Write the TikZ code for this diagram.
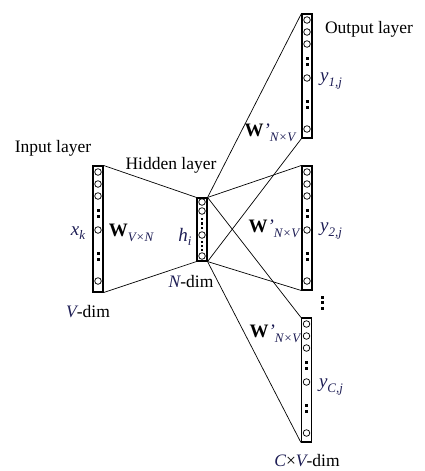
\documentclass[tikz,border=0pt]{standalone}
\usepackage{fontspec}
\setmainfont{Liberation Serif}
\definecolor{mathcol}{RGB}{30,30,85}
\newcommand\lblsz{\fontsize{17.5}{17.5}\selectfont}
\newcommand\bigsz{\fontsize{19}{19}\selectfont}
\newcommand\subsz{\fontsize{13}{13}\selectfont}
\newcommand\mvar[1]{{\color{mathcol}\itshape #1}}
\newcommand\msub[2]{{\bigsz\mvar{#1}}\raisebox{-4.5pt}{\subsz\mvar{#2}}}
\newcommand\Wsub[1]{{\bigsz\textbf{W}}\raisebox{-4.5pt}{\subsz\mvar{#1}}}
\newcommand\Wpsub[1]{{\bigsz\textbf{W}\mvar{'}}\raisebox{-4.5pt}{\subsz\mvar{#1}}}
\newcommand\unitcol[2]{%
  \foreach \o in {6,18,30,64,115} \draw[unit] (#1,#2+\o) circle (3.3);
  \foreach \o in {44,50,87,93} \fill (#1-1.5,#2+\o-1.5) rectangle ++(3,3);
}
\begin{document}
\begin{tikzpicture}[x=1pt,y=-1pt,
  layerbox/.style={draw,line width=1.1pt,minimum width=10pt,inner sep=0pt,fill=none},
  unit/.style={line width=0.75pt},
  conn/.style={line width=0.7pt},
  lbl/.style={font=\lblsz,inner sep=0pt}]
\useasboundingbox (0,0) rectangle (425,471);
% layer boxes
\node[layerbox,minimum height=126pt] (in) at (98,229) {};
\node[layerbox,minimum height=63pt] (hid) at (202,229.5) {};
\node[layerbox,minimum height=124pt] (o1) at (307,76) {};
\node[layerbox,minimum height=124pt] (o2) at (307,228) {};
\node[layerbox,minimum height=124pt] (o3) at (306.5,380) {};
% units
\unitcol{98}{166}
\unitcol{307}{14}
\unitcol{307}{166}
\unitcol{306.5}{318}
\foreach \y in {202,211,235,256} \draw[unit] (202,\y) circle (3.3);
\foreach \y in {219,223.5,228,242,246,250} \fill (202-1.4,\y-1.4) rectangle ++(2.8,2.8);
% vertical dots between output layers
\foreach \y in {297,302.5,308} \fill (322-1.5,\y-1.5) rectangle ++(3,3);
% connectors
\draw[conn] (in.north east) -- (hid.north west);
\draw[conn] (in.south east) -- (hid.south west);
\foreach \o in {o1,o2,o3}{
  \draw[conn] (hid.north east) -- (\o.north west);
  \draw[conn] (hid.south east) -- (\o.south west);
}
% labels
\node[lbl] (tin) at (53,148) {Input layer};
\node[lbl] (thid) at (171,165) {Hidden layer};
\node[lbl] (tout) at (369,29) {Output layer};
\node[lbl] (xk) at (78,233) {\msub{x}{k}};
\node[lbl] (wvn) at (131,233) {\Wsub{V×N}};
\node[lbl] (hi) at (185,237) {\msub{h}{i}};
\node[lbl] (ndim) at (191,282) {\mvar{N}-dim};
\node[lbl] (vdim) at (88,312) {\mvar{V}-dim};
\node[lbl] (w1) at (270,133) {\Wpsub{N×V}};
\node[lbl] (y1) at (331,81) {\msub{y}{1,j}};
\node[lbl] (w2) at (274,229) {\Wpsub{N×V}};
\node[lbl] (y2) at (331,231) {\msub{y}{2,j}};
\node[lbl] (w3) at (275,334) {\Wpsub{N×V}};
\node[lbl] (y3) at (331,387) {\msub{y}{C,j}};
\node[lbl] (cvdim) at (307,461) {\mvar{C}×\mvar{V}-dim};
\end{tikzpicture}
\end{document}
